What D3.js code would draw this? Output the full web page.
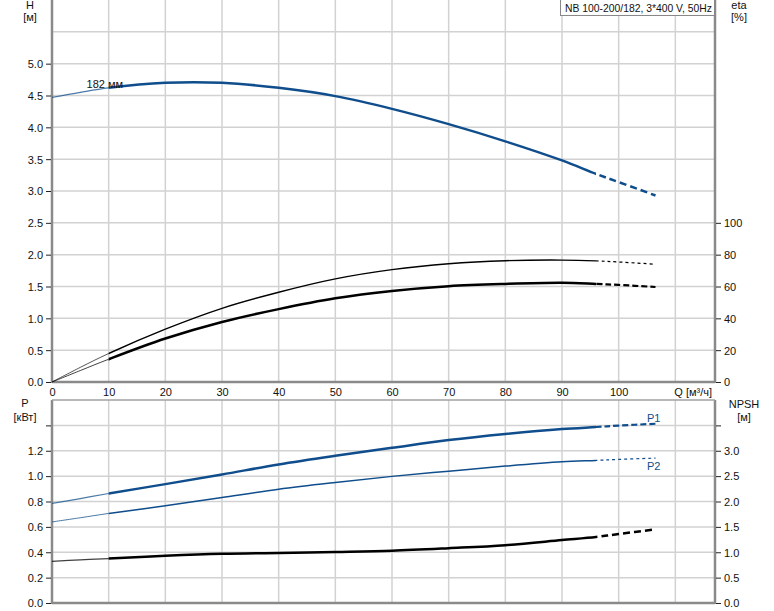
<!DOCTYPE html>
<html><head><meta charset="utf-8">
<script src="https://cdn.jsdelivr.net/npm/d3@7"></script>
<style>
body{margin:0;background:#fff;}
text{font-family:"Liberation Sans",Arial,sans-serif;font-size:11px;fill:#111;}
</style></head>
<body><svg id="c" width="774" height="611"></svg>
<script>
// ---- data ----
const Q      = [0, 5, 10, 20, 30, 40, 50, 60, 70, 80, 90, 96, 100, 106.5];
const H      = [4.47, 4.55, 4.62, 4.70, 4.70, 4.62, 4.49, 4.29, 4.05, 3.78, 3.48, 3.27, 3.14, 2.93];
const etaA   = [0, 9.2, 17.9, 33.2, 46.3, 56.4, 64.8, 70.6, 74.3, 76.2, 76.6, 76.1, 75.4, 74.0];
const etaB   = [0, 7.2, 14.3, 27.3, 37.7, 45.8, 52.6, 57.2, 60.2, 61.6, 62.3, 61.6, 61.0, 59.7];
const P1     = [0.785, 0.823, 0.863, 0.937, 1.013, 1.092, 1.160, 1.223, 1.284, 1.332, 1.371, 1.387, 1.398, 1.413];
const P2     = [0.639, 0.672, 0.706, 0.766, 0.832, 0.897, 0.950, 0.998, 1.039, 1.079, 1.113, 1.124, 1.132, 1.142];
const NPSH   = [0.82, 0.85, 0.876, 0.93, 0.97, 0.987, 1.006, 1.03, 1.08, 1.14, 1.24, 1.30, 1.36, 1.45];
const xTicks = [0, 10, 20, 30, 40, 50, 60, 70, 80, 90, 100];
const xGrid  = [10, 20, 30, 40, 50, 60, 70, 80, 90, 100, 110];
const hTicks = [0, 0.5, 1, 1.5, 2, 2.5, 3, 3.5, 4, 4.5, 5];
const hGrid  = [0.5, 1, 1.5, 2, 2.5, 3, 3.5, 4, 4.5, 5, 5.5];
const etaTicks = [0, 20, 40, 60, 80, 100];
const pTicks = [0, 0.2, 0.4, 0.6, 0.8, 1.0, 1.2, 1.4];
const pLabels = [0, 0.2, 0.4, 0.6, 0.8, 1.0, 1.2];
const nTicks = [0, 0.5, 1, 1.5, 2, 2.5, 3, 3.5];
const nLabels = [0, 0.5, 1, 1.5, 2, 2.5, 3];
const title = "NB 100-200/182, 3*400 V, 50Hz";
const qStart = 10, qEnd = 96;

// ---- scales ----
const svg = d3.select("#c");
const L = 52, R = 715;
const x = d3.scaleLinear().domain([0, 117]).range([L, R]);
const yH = d3.scaleLinear().domain([0, 6]).range([382, 0]);
const yE = d3.scaleLinear().domain([0, 240]).range([382, 0]);
const yP = d3.scaleLinear().domain([0, 1.6]).range([603, 400]);
const yN = d3.scaleLinear().domain([0, 4]).range([603, 400]);

const gridC = "#d2d2d2", axC = "#8a8a8a", blue = "#0f4d8c";

// clip regions for curve segments
const defs = svg.append("defs");
[["cs", 0, qStart], ["cm", qStart, qEnd], ["ce", qEnd, 200]].forEach(([id, a, b]) => {
  defs.append("clipPath").attr("id", id).append("rect")
    .attr("x", x(a)).attr("width", x(Math.min(b, 117)) - x(a)).attr("y", 0).attr("height", 611);
});

// grids
function grid(yScale, vals, y0, y1) {
  svg.append("g").selectAll("line").data(vals).join("line")
    .attr("x1", L).attr("x2", R).attr("y1", d => yScale(d)).attr("y2", d => yScale(d))
    .attr("stroke", gridC).attr("stroke-width", 1.5);
  svg.append("g").selectAll("line").data(xGrid).join("line")
    .attr("x1", d => x(d)).attr("x2", d => x(d)).attr("y1", y0).attr("y2", y1)
    .attr("stroke", gridC).attr("stroke-width", 1.5);
}
grid(yH, hGrid, 0, 382);
grid(yP, pTicks, 400, 603);

// axes
function axes(yTop, yBot) {
  const g = svg.append("g").attr("stroke", axC).attr("stroke-width", 2.5);
  g.append("line").attr("x1", L).attr("x2", L).attr("y1", yTop).attr("y2", yBot + 1);
  g.append("line").attr("x1", R).attr("x2", R).attr("y1", yTop).attr("y2", yBot + 1);
  g.append("line").attr("x1", L).attr("x2", R).attr("y1", yBot).attr("y2", yBot);
}
axes(0, 382);
axes(400, 603);
svg.append("line").attr("x1", L).attr("x2", R).attr("y1", 400).attr("y2", 400)
  .attr("stroke", "#a0a0a0").attr("stroke-width", 1.5);

function sideAxis(axisFn, xPos, scale, ticks, labels, fmt) {
  const g = svg.append("g").attr("transform", `translate(${xPos},0)`)
    .call(axisFn(scale).tickValues(ticks).tickSize(5).tickPadding(3)
      .tickFormat(d => labels.includes(d) ? fmt(d) : ""));
  g.select(".domain").remove();
  g.selectAll(".tick line").attr("stroke", "#222");
  g.selectAll("text").style("font-size", "11px").attr("fill", "#111").attr("dy", "0.35em");
}
sideAxis(d3.axisLeft, L - 1, yH, hTicks, hTicks, d3.format(".1f"));
sideAxis(d3.axisRight, R + 1, yE, etaTicks, etaTicks, d3.format("d"));
sideAxis(d3.axisLeft, L - 1, yP, pTicks, pLabels, d3.format(".1f"));
sideAxis(d3.axisRight, R + 1, yN, nTicks, nLabels, d3.format(".1f"));

// x labels top chart
const gx = svg.append("g").attr("transform", "translate(0,382)")
  .call(d3.axisBottom(x).tickValues(xTicks).tickSize(0).tickPadding(6).tickFormat(d3.format("d")));
gx.select(".domain").remove();
gx.selectAll("text").style("font-size", "11px").attr("fill", "#111");
svg.append("text").attr("x", x(110) - 1).attr("y", 396).text("Q [м³/ч]");

// axis titles
function lab(xp, yp, t) { svg.append("text").attr("x", xp).attr("y", yp).attr("text-anchor", "middle").attr("fill", "#222").text(t); }
lab(30, 9, "H"); lab(30, 21, "[м]");
lab(739, 9, "eta"); lab(739, 21, "[%]");
lab(25, 407, "P"); lab(25, 421, "[кВт]");
lab(744, 408, "NPSH"); lab(744, 421, "[м]");

// legend box
svg.append("rect").attr("x", 560.5).attr("y", -1).attr("width", 154).attr("height", 16.5)
  .attr("fill", "#fff").attr("stroke", "#888").attr("stroke-width", 1);
svg.append("text").attr("x", 565).attr("y", 11.5).attr("textLength", 147)
  .attr("lengthAdjust", "spacingAndGlyphs").text(title);

// curves: full smooth path, split by clipping into start / main / dashed end
function curve(vals, yScale, color, wMain, wStart, dash, wDash) {
  const line = d3.line().x(d => x(d[0])).y(d => yScale(d[1])).curve(d3.curveCatmullRom.alpha(0.5));
  const pts = Q.map((q, i) => [q, vals[i]]);
  const d = line(pts);
  svg.append("path").attr("d", d).attr("clip-path", "url(#cs)").attr("fill", "none")
    .attr("stroke", color).attr("stroke-width", wStart).attr("stroke-opacity", 0.75);
  svg.append("path").attr("d", d).attr("clip-path", "url(#cm)").attr("fill", "none")
    .attr("stroke", color).attr("stroke-width", wMain);
  svg.append("path").attr("d", d).attr("clip-path", "url(#ce)").attr("fill", "none")
    .attr("stroke", color).attr("stroke-width", wDash).attr("stroke-dasharray", dash);
}
curve(H, yH, blue, 2.5, 1.2, "7,4", 2.5);
curve(etaA, yE, "#000", 1.4, 0.9, "3,3", 1.2);
curve(etaB, yE, "#000", 2.5, 1, "6,3", 2.2);
curve(P1, yP, blue, 2.5, 1.2, "6,3", 2.2);
curve(P2, yP, blue, 1.5, 1, "3,3", 1.2);
curve(NPSH, yN, "#000", 2.5, 1.2, "7,4", 2.5);

// curve labels
svg.append("text").attr("x", x(6.1)).attr("y", 88).text("182 мм");
svg.append("text").attr("x", x(105)).attr("y", 422).style("fill", blue).text("P1");
svg.append("text").attr("x", x(105)).attr("y", 470).style("fill", blue).text("P2");
</script></body></html>
